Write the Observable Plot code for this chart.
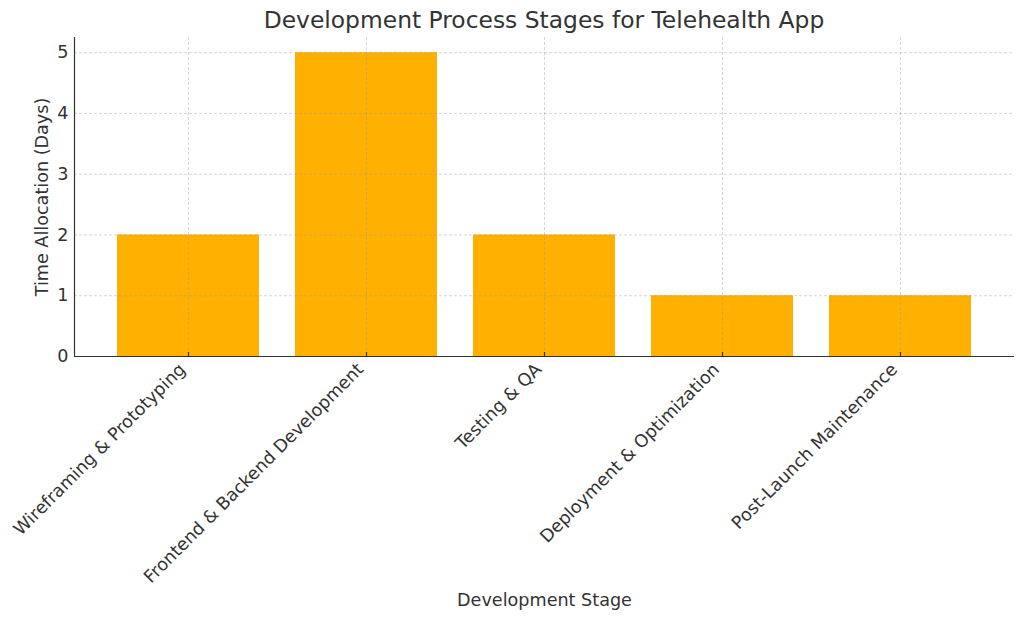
<!DOCTYPE html>
<html><head><meta charset="utf-8">
<script src="https://cdn.jsdelivr.net/npm/d3@7"></script>
<script src="https://cdn.jsdelivr.net/npm/@observablehq/plot@0.6"></script>
<style>
body{margin:0;background:#fff;font-family:"DejaVu Sans",sans-serif;}
#title{height:37px;width:1024px;position:relative;}
#title span{position:absolute;left:74px;width:940px;text-align:center;top:6px;font-size:23.4px;color:#333;white-space:nowrap;}
</style></head><body>
<div id="title"><span>Development Process Stages for Telehealth App</span></div>
<div id="chart"></div>
<script>
const stages = ["Wireframing & Prototyping", "Frontend & Backend Development", "Testing & QA", "Deployment & Optimization", "Post-Launch Maintenance"];
const days = [2, 5, 2, 1, 1];
const yTicks = [0, 1, 2, 3, 4, 5];
const xLabel = "Development Stage";
const yLabel = "Time Allocation (Days)";
const data = stages.map((s, i) => ({stage: s, days: days[i]}));

const chart = Plot.plot({
  width: 1024, height: 583,
  marginTop: 0, marginLeft: 74, marginRight: 10, marginBottom: 264,
  style: {fontFamily: "DejaVu Sans", fontSize: "17.6px", color: "#333", background: "#fff"},
  x: {domain: stages, type: "band", paddingInner: 0.2, paddingOuter: 0.24, label: null},
  y: {domain: [0, 5.25], label: null},
  marks: [
    Plot.barY(data, {x: "stage", y: "days", fill: "#FFB000"}),
    Plot.gridX({stroke: "#999", strokeOpacity: 0.4, strokeDasharray: "3,2", strokeWidth: 1}),
    Plot.gridY(yTicks, {stroke: "#999", strokeOpacity: 0.4, strokeDasharray: "3,2", strokeWidth: 1}),
    Plot.axisY(yTicks, {tickSize: 0, tickPadding: 6, tickFormat: "d", label: null, fill: "#333"}),
    Plot.axisX({tickSize: 0, tickPadding: 10, dx: -6, tickRotate: -45, label: null, fill: "#333"}),
    Plot.tickX(stages, {x: d => d, insetTop: 315, stroke: "#333", strokeWidth: 1.2}),
    Plot.ruleY([0], {stroke: "#333", strokeWidth: 1.2}),
    Plot.frame({anchor: "left", stroke: "#333", strokeWidth: 1.2}),
    Plot.text([yLabel], {frameAnchor: "left", textAnchor: "middle", dx: -32, rotate: -90, fontSize: 17.6, fill: "#333"}),
    Plot.text([xLabel], {frameAnchor: "bottom", dy: 249, fontSize: 17.6, fill: "#333"})
  ]
});
document.getElementById("chart").appendChild(chart);
</script>
</body></html>
